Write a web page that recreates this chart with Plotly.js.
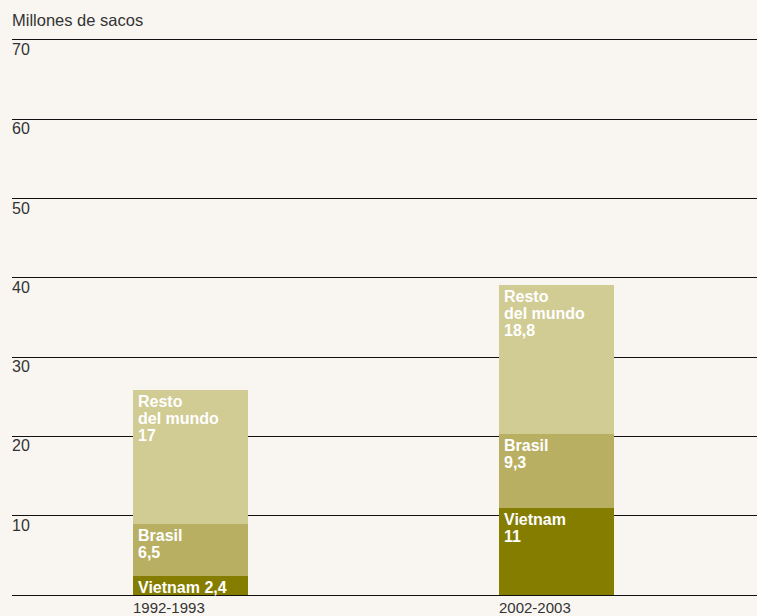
<!DOCTYPE html>
<html><head><meta charset="utf-8">
<script src="https://cdn.plot.ly/plotly-3.0.1.min.js"></script>
<style>html,body{margin:0;padding:0;background:#f9f6f2;}</style>
</head><body>
<div id="chart" style="width:757px;height:616px;"></div>
<script>
const periods = ["1992-1993", "2002-2003"];
const vietnam = [2.4, 11];
const brasil = [6.5, 9.3];
const resto = [17, 18.8];
const yTicks = [10, 20, 30, 40, 50, 60, 70];
const yTickLabels = ["10", "20", "30", "40", "50", "60", "70"];
const vietnamLabels = [["Vietnam 2,4"], ["Vietnam", "11"]];
const brasilLabels = [["Brasil", "6,5"], ["Brasil", "9,3"]];
const restoLabels = [["Resto", "del mundo", "17"], ["Resto", "del mundo", "18,8"]];

const xs = periods.map((p, i) => i);
const barW = 0.314;
const cols = {v: "#857d00", b: "#b8af63", r: "#d1cb94"};
const FONT = "Liberation Sans, Arial, sans-serif";

function trace(name, vals, color) {
  return {type: "bar", x: xs, y: vals, name: name, width: barW,
    marker: {color: color, line: {width: 0}}, hoverinfo: "skip"};
}
const data = [trace("Vietnam", vietnam, cols.v), trace("Brasil", brasil, cols.b), trace("Resto del mundo", resto, cols.r)];

const annotations = [];
const lineH = 17;
function addLabels(labels, bases, vals) {
  labels.forEach((lines, i) => {
    const top = bases[i] + vals[i];
    lines.forEach((t, j) => {
      annotations.push({x: xs[i] - barW / 2, y: top, xref: "x", yref: "y",
        xanchor: "left", yanchor: "top", xshift: 3, yshift: -(1 + j * lineH),
        text: t, showarrow: false,
        font: {family: FONT, size: 16, color: "#ffffff", weight: "bold"}});
    });
  });
}
const zeros = vietnam.map(() => 0);
addLabels(vietnamLabels, zeros, vietnam);
addLabels(brasilLabels, vietnam, brasil);
addLabels(restoLabels, vietnam.map((v, i) => v + brasil[i]), resto);

periods.forEach((p, i) => {
  annotations.push({x: xs[i] - barW / 2, y: 0, xref: "x", yref: "y", xanchor: "left", yanchor: "top",
    yshift: -2, xshift: -2, text: p, showarrow: false,
    font: {family: FONT, size: 15, color: "#333333"}});
});
yTicks.forEach((v, i) => {
  annotations.push({x: 0, xref: "paper", y: v, yref: "y", xanchor: "left", yanchor: "top",
    yshift: 1, xshift: -2, text: yTickLabels[i], showarrow: false,
    font: {family: FONT, size: 16, color: "#333333"}});
});
annotations.push({x: 0, xref: "paper", y: 70, yref: "y", xanchor: "left", yanchor: "bottom",
  yshift: 9, xshift: -2, text: "Millones de sacos", showarrow: false,
  font: {family: FONT, size: 16.5, color: "#333333"}});

const layout = {
  width: 757, height: 616,
  margin: {l: 12, r: 0, t: 32, b: 21, pad: 0},
  paper_bgcolor: "#f9f6f2", plot_bgcolor: "#f9f6f2",
  barmode: "stack", showlegend: false,
  xaxis: {range: [-0.4877, 1.5478], showticklabels: false, showgrid: false, zeroline: false, ticks: "", fixedrange: true},
  yaxis: {range: [0, 71], tickvals: yTicks, showticklabels: false, showgrid: true, gridcolor: "#111111", gridwidth: 1,
    zeroline: true, zerolinecolor: "#111111", zerolinewidth: 1, ticks: "", layer: "below traces"},
  annotations: annotations
};
Plotly.newPlot("chart", data, layout, {displayModeBar: false, staticPlot: true});
</script>
</body></html>
